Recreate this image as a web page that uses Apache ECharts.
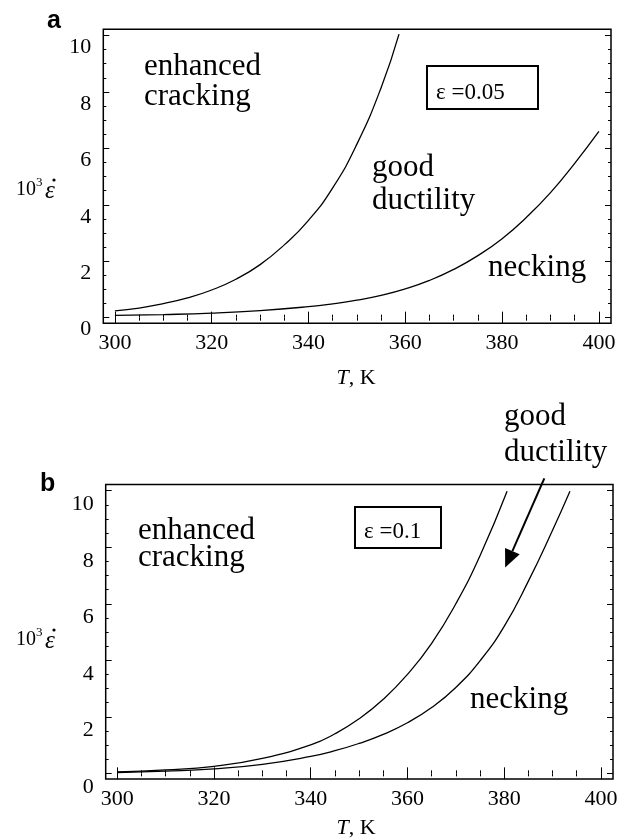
<!DOCTYPE html>
<html>
<head>
<meta charset="utf-8">
<script src="https://cdn.jsdelivr.net/npm/echarts@6/dist/echarts.min.js"></script>
<style>
  html, body { margin: 0; padding: 0; background: #fff; }
  #chart { width: 628px; height: 839px; }
</style>
</head>
<body>
<div id="chart"></div>
<script>
// tick labels
const xMajor = [300, 320, 340, 360, 380, 400];
const yMajor = [0, 2, 4, 6, 8, 10];

// panel a, eps = 0.05 : [T, 10^3 * strain rate]
const crackA = [[300, 0.24], [305, 0.34], [310, 0.50], [315, 0.70], [320, 0.98], [325, 1.36], [330, 1.88],
  [335, 2.58], [340, 3.45], [345, 4.6], [350, 6.15], [355, 8.15], [358.7, 10.05]];
const neckA = [[300, 0.08], [310, 0.11], [320, 0.16], [330, 0.25], [340, 0.39], [345, 0.49], [350, 0.62],
  [355, 0.79], [360, 1.02], [365, 1.32], [370, 1.71], [375, 2.2], [380, 2.8], [385, 3.55], [390, 4.43],
  [395, 5.47], [400, 6.6]];

// panel b, eps = 0.1
const crackB = [[300, 0.05], [310, 0.12], [320, 0.25], [330, 0.53], [340, 1.01], [345, 1.4], [350, 1.93],
  [355, 2.62], [360, 3.5], [365, 4.6], [370, 6.0], [375, 7.7], [380.6, 9.98]];
const neckB = [[300, 0.03], [310, 0.08], [320, 0.16], [330, 0.32], [340, 0.6], [345, 0.8], [350, 1.06],
  [355, 1.38], [360, 1.79], [365, 2.33], [370, 3.04], [375, 3.98], [380, 5.2], [385, 6.8], [390, 8.6],
  [393.6, 9.98]];

// arrow pointing into the "good ductility" band of panel b
const arrowFrom = [388.3, 10.44];
const arrowTo = [380.2, 7.28];

const X_MIN = 297.6, X_MAX = 402.5;
const Y_MIN = -0.2, Y_MAX = 10.22;

// minor ticks
const xMinor = [], yMinor = [];
for (let t = 300; t <= 400; t += 5) xMinor.push(t);
for (let v = 0; v <= 10; v += 0.5) yMinor.push(v);

const serif = 'Liberation Serif';

function xAx(gi, pos, ticks, len, labels) {
  return {
    type: 'value', gridIndex: gi, position: pos, min: X_MIN, max: X_MAX,
    axisLine: { show: false }, splitLine: { show: false },
    axisTick: { show: true, inside: true, length: len, customValues: ticks, lineStyle: { color: '#000', width: 1 } },
    axisLabel: labels ? { show: true, customValues: labels, color: '#000', fontFamily: serif, fontSize: 22, margin: 9 }
                      : { show: false }
  };
}
function yAx(gi, pos, ticks, len, labels, lh) {
  return {
    type: 'value', gridIndex: gi, position: pos, min: Y_MIN, max: Y_MAX,
    axisLine: { show: false }, splitLine: { show: false },
    axisTick: { show: true, inside: true, length: len, customValues: ticks, lineStyle: { color: '#000', width: 1 } },
    // labels sit a little below their ticks, as in the source figure
    axisLabel: labels ? { show: true, customValues: labels, color: '#000', fontFamily: serif, fontSize: 22, margin: 12,
                          verticalAlign: 'top', lineHeight: lh }
                      : { show: false }
  };
}

const xAxes = [], yAxes = [];
[0, 1].forEach(function (g) {
  xAxes.push(xAx(g, 'bottom', xMajor, 6, xMajor));
  xAxes.push(xAx(g, 'bottom', xMinor, 3, null));
  xAxes.push(xAx(g, 'top', xMajor, 6, null));
  xAxes.push(xAx(g, 'top', xMinor, 3, null));
  yAxes.push(yAx(g, 'left', yMajor, 6, yMajor, g === 0 ? 24 : 27));
  yAxes.push(yAx(g, 'left', yMinor, 3, null));
  yAxes.push(yAx(g, 'right', yMajor, 6, null));
  yAxes.push(yAx(g, 'right', yMinor, 3, null));
});

function curve(data, g) {
  return {
    type: 'line', xAxisIndex: g * 4, yAxisIndex: g * 4, data: data,
    showSymbol: false, smooth: 0.5,
    lineStyle: { color: '#000', width: 1.3 }, silent: true
  };
}

const series = [curve(crackA, 0), curve(neckA, 0), curve(crackB, 1), curve(neckB, 1)];

function txt(x, y, s, size, lh, extra) {
  return {
    type: 'text', x: x, y: y,
    style: Object.assign({ text: s, fontFamily: serif, fontSize: size, lineHeight: lh, fill: '#000',
      align: 'left', verticalAlign: 'middle' }, extra || {})
  };
}
// "10^3 eps-dot" axis title
function epsName(x, y) {
  return {
    type: 'group', x: x, y: y,
    children: [
      txt(0, 0, '10', 20, 20),
      txt(20, -7, '3', 13, 13),
      txt(29, 1, 'ε', 25, 25, { fontStyle: 'italic' }),
      { type: 'circle', shape: { cx: 38, cy: -10, r: 1.6 }, style: { fill: '#000' } }
    ]
  };
}
function tkName(x, y) {
  return {
    type: 'text', x: x, y: y,
    style: {
      text: '{i|T}{r|, K}', align: 'center', verticalAlign: 'middle',
      rich: {
        i: { fontFamily: serif, fontSize: 22, fontStyle: 'italic', fill: '#000' },
        r: { fontFamily: serif, fontSize: 22, fill: '#000' }
      }
    }
  };
}
function box(x, y, w, h) {
  return { type: 'rect', shape: { x: x, y: y, width: w, height: h }, style: { fill: 'none', stroke: '#000', lineWidth: 2 } };
}

const graphics = [
  txt(47, 21, 'a', 25, 25, { fontFamily: 'Liberation Sans', fontWeight: 'bold' }),
  txt(40, 484, 'b', 25, 25, { fontFamily: 'Liberation Sans', fontWeight: 'bold' }),
  epsName(16, 190), epsName(16, 640),
  tkName(356, 378), tkName(356, 828),
  txt(144, 82, 'enhanced\ncracking', 31, 30),
  txt(372, 184, 'good\nductility', 31, 33),
  txt(488, 268, 'necking', 31, 30),
  box(427, 66, 111, 43), txt(436, 93, 'ε =0.05', 23, 23),
  txt(138, 544, 'enhanced\ncracking', 31, 27),
  txt(470, 700, 'necking', 31, 30),
  txt(504, 435, 'good\nductility', 31, 36),
  box(355, 507, 86, 41), txt(364, 532, 'ε =0.1', 23, 23)
];

const myChart = echarts.init(document.getElementById('chart'), null, { renderer: 'canvas' });
const option = {
  animation: false,
  backgroundColor: '#fff',
  grid: [
    { left: 103.3, top: 29.3, width: 507.7, height: 294, show: true, borderColor: '#000', borderWidth: 1.5 },
    { left: 105.7, top: 484.5, width: 507.3, height: 294.5, show: true, borderColor: '#000', borderWidth: 1.5 }
  ],
  xAxis: xAxes,
  yAxis: yAxes,
  series: series,
  graphic: graphics
};
myChart.setOption(option);

// arrow: positions from the panel b scales (start lies above the frame, so draw it as graphic)
const p1 = myChart.convertToPixel({ gridIndex: 1 }, arrowFrom);
const p2 = myChart.convertToPixel({ gridIndex: 1 }, arrowTo);
const dx = p2[0] - p1[0], dy = p2[1] - p1[1];
const L = Math.sqrt(dx * dx + dy * dy), ux = dx / L, uy = dy / L;
const headLen = 18, headHalf = 8;
const bx = p2[0] - ux * headLen, by = p2[1] - uy * headLen;
graphics.push({
  type: 'line', shape: { x1: p1[0], y1: p1[1], x2: bx, y2: by },
  style: { stroke: '#000', lineWidth: 2 }
});
graphics.push({
  type: 'polygon',
  shape: { points: [[p2[0], p2[1]], [bx - uy * headHalf, by + ux * headHalf], [bx + uy * headHalf, by - ux * headHalf]] },
  style: { fill: '#000' }
});
myChart.setOption({ graphic: graphics });
</script>
</body>
</html>
